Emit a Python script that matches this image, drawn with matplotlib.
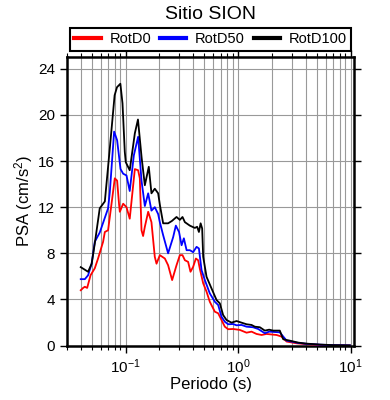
import numpy as np
import matplotlib
matplotlib.use('Agg')
import matplotlib.pyplot as plt
from matplotlib.ticker import LogLocator, MultipleLocator, NullFormatter

plt.rcParams['font.family'] = ['Liberation Sans', 'DejaVu Sans']
plt.rcParams['mathtext.default'] = 'regular'

# periods (s) and PSA (cm/s2)
per_d0 = [0.040, 0.042, 0.0435, 0.0456, 0.0489, 0.0533, 0.057, 0.0632, 0.0655, 0.070,
          0.0751, 0.0803, 0.0842, 0.0877, 0.089, 0.0953, 0.102, 0.109, 0.121, 0.1294,
          0.134, 0.1387, 0.1433, 0.1485, 0.159, 0.170, 0.182, 0.1886, 0.2018, 0.2236,
          0.239, 0.2596, 0.284, 0.304, 0.321, 0.337, 0.36, 0.378, 0.399, 0.422,
          0.442, 0.457, 0.490, 0.525, 0.561, 0.622, 0.666, 0.713, 0.763, 0.817,
          0.904, 1.037, 1.19, 1.318, 1.46, 1.62, 1.79, 2.2, 2.44, 2.7,
          3.31, 4.1, 5.34, 7.0, 9.86]
psa_d0 = [4.8, 5.0, 5.1, 5.0, 6.1, 6.7, 7.55, 9.0, 9.85, 10.0,
          12.3, 14.5, 14.3, 12.2, 11.6, 12.3, 12.0, 11.0, 15.3, 15.2,
          14.5, 10.0, 9.5, 10.3, 11.6, 10.7, 7.7, 7.1, 7.84, 7.55,
          6.97, 5.68, 6.97, 7.84, 7.84, 7.4, 7.26, 6.4, 6.83, 7.55,
          7.4, 6.69, 5.4, 4.67, 3.8, 2.94, 2.8, 2.22, 1.64, 1.42,
          1.44, 1.36, 1.12, 1.21, 1.01, 0.92, 1.01, 0.92, 0.78, 0.35,
          0.2, 0.12, 0.06, 0.03, 0.01]

per_d50 = [0.040, 0.0435, 0.0465, 0.050, 0.0533, 0.059, 0.070, 0.0725, 0.0792, 0.0842,
           0.0903, 0.0953, 0.102, 0.109, 0.1186, 0.1294, 0.1387, 0.1485, 0.159, 0.170,
           0.182, 0.195, 0.2018, 0.216, 0.239, 0.265, 0.280, 0.299, 0.315, 0.330,
           0.349, 0.373, 0.399, 0.428, 0.449, 0.474, 0.507, 0.561, 0.622, 0.666,
           0.713, 0.763, 0.817, 0.904, 0.97, 1.074, 1.19, 1.36, 1.51, 1.73,
           1.89, 2.35, 2.7, 3.4, 4.1, 5.34, 7.0, 9.86]
psa_d50 = [5.76, 5.76, 6.1, 7.1, 9.0, 9.8, 11.9, 13.3, 18.55, 17.8,
           15.3, 14.9, 14.75, 13.4, 16.5, 18.1, 14.3, 12.1, 13.2, 11.7,
           12.0, 11.4, 10.7, 9.57, 8.0, 9.4, 10.4, 9.85, 8.7, 9.3,
           8.27, 8.27, 8.1, 8.56, 8.42, 6.54, 5.68, 4.53, 3.8, 3.52,
           2.5, 2.07, 1.85, 1.87, 1.76, 1.79, 1.64, 1.59, 1.44, 1.07,
           1.21, 1.15, 0.43, 0.24, 0.15, 0.08, 0.04, 0.02]

per_d100 = [0.040, 0.0465, 0.050, 0.0533, 0.059, 0.0655, 0.0725, 0.080, 0.084, 0.090,
            0.094, 0.0985, 0.1005, 0.109, 0.121, 0.129, 0.139, 0.1485, 0.161, 0.170,
            0.182, 0.195, 0.202, 0.216, 0.239, 0.258, 0.284, 0.304, 0.321, 0.337,
            0.373, 0.413, 0.433, 0.449, 0.465, 0.480, 0.490, 0.525, 0.581, 0.644,
            0.689, 0.737, 0.79, 0.875, 0.97, 1.074, 1.19, 1.318, 1.41, 1.563,
            1.73, 1.89, 2.05, 2.35, 2.52, 2.88, 3.42, 4.06, 5.34, 7.0, 9.86]
psa_d100 = [6.8, 6.4, 7.1, 8.85, 11.9, 12.5, 17.1, 21.7, 22.4, 22.7,
            21.0, 16.8, 15.9, 15.2, 18.4, 19.6, 16.3, 13.9, 15.5, 13.2,
            13.6, 13.2, 12.2, 10.6, 10.6, 10.8, 11.15, 10.9, 11.15, 10.7,
            10.4, 10.2, 10.3, 9.85, 10.6, 10.15, 7.7, 5.96, 4.96, 3.95,
            3.66, 2.65, 2.22, 1.99, 2.13, 1.99, 1.85, 1.79, 1.64, 1.59,
            1.3, 1.38, 1.3, 1.3, 0.55, 0.43, 0.26, 0.17, 0.09, 0.04, 0.02]

fig = plt.figure(figsize=(3.9, 4.0), dpi=100)
ax = fig.add_axes([0.171, 0.136, 0.7375, 0.721])

ax.plot(per_d0, psa_d0, color='red', lw=1.3, label='RotD0', zorder=3)
ax.plot(per_d50, psa_d50, color='blue', lw=1.3, label='RotD50', zorder=3)
ax.plot(per_d100, psa_d100, color='black', lw=1.3, label='RotD100', zorder=3)

ax.set_xscale('log')
ax.set_xlim(0.03, 10.8)
ax.set_ylim(0, 25)
ax.yaxis.set_major_locator(MultipleLocator(4))
ax.xaxis.set_major_locator(LogLocator(base=10))
ax.xaxis.set_minor_locator(LogLocator(base=10, subs=np.arange(2, 10)))
ax.xaxis.set_minor_formatter(NullFormatter())

ax.grid(True, which='both', axis='x', color='#999999', lw=0.8)
ax.grid(True, which='major', axis='y', color='#999999', lw=0.8)

for s in ax.spines.values():
    s.set_linewidth(1.8)
ax.tick_params(which='both', direction='out', top=True, right=True, labelsize=11)
ax.tick_params(which='major', length=5, width=1)
ax.tick_params(which='minor', length=3, width=0.8)

ax.set_xlabel('Periodo (s)', fontsize=12, labelpad=1)
ax.set_ylabel('PSA (cm/s$^2$)', fontsize=12)
ax.yaxis.set_label_coords(-0.11, 0.5)
fig.text(0.54, 0.963, 'Sitio SION', fontsize=14, ha='center', va='center')

leg = ax.legend(loc='lower center', bbox_to_anchor=(0.5, 1.022),
                ncol=3, fancybox=False, framealpha=1, edgecolor='black', fontsize=10.5,
                handlelength=1.8, borderaxespad=0, handletextpad=0.6, borderpad=0.3,
                columnspacing=0.6)
leg.get_frame().set_linewidth(1.5)
for h in leg.get_lines():
    h.set_linewidth(3)

plt.savefig('out.png', dpi=100)
